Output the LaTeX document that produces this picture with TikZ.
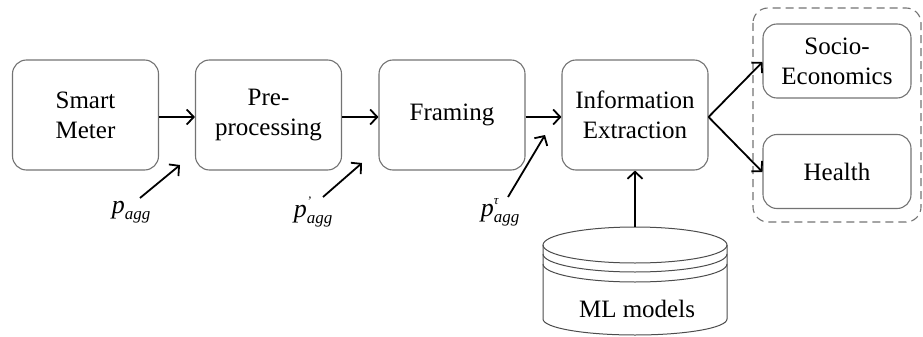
\documentclass[tikz,border=0pt]{standalone}
\usepackage{fontspec}
\setmainfont{Liberation Serif}
\usetikzlibrary{arrows.meta}

% p_agg style labels: italic p with a small superscript mark and an "agg" subscript
\newcommand\plabel[1]{\textit{p}\makebox[0pt][l]{\raisebox{12pt}{\fontsize{13}{13}\selectfont\itshape #1}}\raisebox{-6pt}{\fontsize{17}{17}\selectfont\itshape agg}}

\tikzset{
  stage/.style={draw=black!55, line width=1.1pt, rounded corners=14pt,
    minimum width=146pt, minimum height=110pt, align=center,
    font=\fontsize{25}{30}\selectfont, inner sep=0pt},
  outcome/.style={stage, minimum width=148pt, minimum height=74pt},
  flow/.style={line width=1.8pt, -{Straight Barb[length=7pt,width=15pt,line width=1.8pt]}},
  sig/.style={font=\fontsize{26}{30}\selectfont, inner sep=0pt},
}

\begin{document}
\begin{tikzpicture}[x=1pt,y=-1pt]
\useasboundingbox (0,0) rectangle (923,337);

% pipeline stages
\node[stage] (meter) at (85.5,115) {Smart\\Meter};
\node[stage] (pre)   at (268.5,115) {Pre-\\processing};
\node[stage] (frame) at (452,115) {Framing};
\node[stage] (info)  at (635,115) {Information\\Extraction};

% outcomes inside the dashed group
\node[outcome] (socio)  at (837,61) {Socio-\\Economics};
\node[outcome] (health) at (837,171.5) {Health};
\draw[black!55, line width=1.1pt, dash pattern=on 8pt off 5pt, rounded corners=15pt]
  (753,8) rectangle (921,222);

% ML models database (y grows downwards here, so lower arcs run 180 -> 0)
\begin{scope}[black!70, line width=1pt]
  \draw (543,245) -- (543,319) arc[start angle=180,end angle=0,x radius=92,y radius=16]
        -- (727,245);
  \draw (635,245) ellipse[x radius=92, y radius=18];
  \draw (543,254) arc[start angle=180,end angle=0,x radius=92,y radius=18];
  \draw (543,264) arc[start angle=180,end angle=0,x radius=92,y radius=18];
\end{scope}
\node[font=\fontsize{25}{30}\selectfont, inner sep=0pt] (ml) at (637,309) {ML models};
\coordinate (mltop) at (635,227);

% signal labels and their inputs
\node[sig] (p0) at (131,212) {\plabel{}};
\node[sig] (p1) at (313,212) {\plabel{'}};
\node[sig] (p2) at (500,212) {\plabel{τ}};
\coordinate (s0) at (140,198);
\coordinate (t0) at (180,165);
\coordinate (s1) at (323,197);
\coordinate (t1) at (362,163);
\coordinate (s2) at (508,197);
\coordinate (t2) at (545,135);

% connectors
\draw[flow] (meter.east |- 0,117) -- (pre.west |- 0,117);
\draw[flow] (pre.east |- 0,117) -- (frame.west |- 0,117);
\draw[flow] (frame.east |- 0,117) -- (info.west |- 0,117);
\draw[flow] (s0) -- (t0);
\draw[flow] (s1) -- (t1);
\draw[flow] (s2) -- (t2);
\draw[flow] (mltop) -- (info.south);
\draw[flow] (info.east |- 0,117) -- (socio.west |- 0,62);
\draw[flow] (info.east |- 0,117) -- (health.west |- 0,172);
\end{tikzpicture}
\end{document}
